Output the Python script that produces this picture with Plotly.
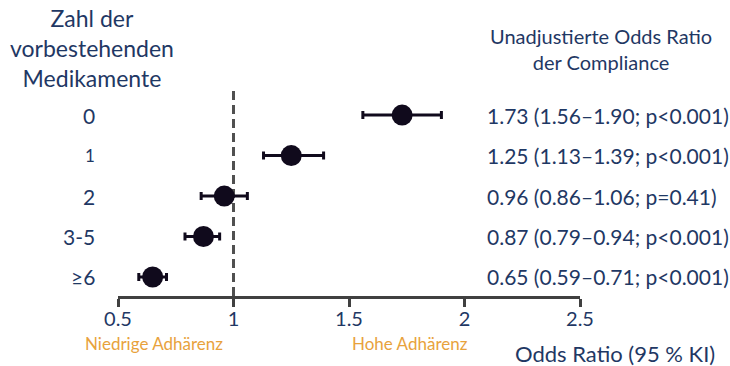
import plotly.graph_objects as go

# Forest plot data: odds ratio of compliance by number of pre-existing medications
categories = ["0", "1", "2", "3-5", "≥6"]
odds_ratio = [1.73, 1.25, 0.96, 0.87, 0.65]
ci_low = [1.56, 1.13, 0.86, 0.79, 0.59]
ci_high = [1.90, 1.39, 1.06, 0.94, 0.71]
p_text = ["p<0.001", "p<0.001", "p=0.41", "p<0.001", "p<0.001"]
x_ticks = [0.5, 1, 1.5, 2, 2.5]
x_tick_labels = ["0.5", "1", "1.5", "2", "2.5"]

NAVY = "#1F3864"
ORANGE = "#E8A23C"
MARK = "#100A1C"
AXIS = "#404040"
FONT = "Lato"

W, H = 730, 366
ML, MR, MT, MB = 118, 150, 88, 70
PW = W - ML - MR
PH = H - MT - MB

# rows from top (0) to bottom (≥6)
ypos = list(range(len(categories) - 1, -1, -1))

fig = go.Figure()

fig.add_trace(go.Scatter(
    x=odds_ratio,
    y=ypos,
    mode="markers",
    marker=dict(size=21, color=MARK),
    error_x=dict(
        type="data",
        symmetric=False,
        array=[h - o for h, o in zip(ci_high, odds_ratio)],
        arrayminus=[o - l for o, l in zip(odds_ratio, ci_low)],
        color=MARK,
        thickness=3,
        width=4,
    ),
    hoverinfo="skip",
    showlegend=False,
))

# reference line at OR = 1
fig.add_shape(type="line", xref="x", yref="paper", x0=1, x1=1, y0=0, y1=1,
              line=dict(color="#505050", width=3, dash="9px,5px"), layer="below")

annotations = []

# category labels
for cat, y in zip(categories, ypos):
    annotations.append(dict(
        text=cat, xref="paper", yref="y", x=(97 - ML) / PW, y=y,
        xanchor="right", yanchor="middle", showarrow=False,
        font=dict(family=FONT, size=17 if cat == "1" else 21, color=NAVY),
    ))

# value labels
for o, l, h, p, y in zip(odds_ratio, ci_low, ci_high, p_text, ypos):
    annotations.append(dict(
        text=f"{o:.2f} ({l:.2f}–{h:.2f}; {p})", xref="paper", yref="y",
        x=(485 - ML) / PW, y=y, xanchor="left", yanchor="middle", showarrow=False,
        font=dict(family=FONT, size=21, color=NAVY),
    ))

# headers
annotations.append(dict(
    text="Zahl der<br>vorbestehenden<br>Medikamente", xref="paper", yref="paper",
    x=(92 - ML) / PW, y=(MT + PH - 48) / PH, xanchor="center", yanchor="middle",
    showarrow=False, align="center",
    font=dict(family=FONT, size=23, color=NAVY),
))
annotations.append(dict(
    text="Unadjustierte Odds Ratio<br>der Compliance", xref="paper", yref="paper",
    x=(601 - ML) / PW, y=(MT + PH - 49) / PH, xanchor="center", yanchor="middle",
    showarrow=False, align="center",
    font=dict(family=FONT, size=20, color=NAVY),
))

# bottom captions
annotations.append(dict(
    text="Niedrige Adhärenz", xref="paper", yref="paper",
    x=(154 - ML) / PW, y=(MT + PH - 343) / PH, xanchor="center", yanchor="middle",
    showarrow=False, font=dict(family=FONT, size=17, color=ORANGE),
))
annotations.append(dict(
    text="Hohe Adhärenz", xref="paper", yref="paper",
    x=(410 - ML) / PW, y=(MT + PH - 343) / PH, xanchor="center", yanchor="middle",
    showarrow=False, font=dict(family=FONT, size=17, color=ORANGE),
))
annotations.append(dict(
    text="Odds Ratio (95 % KI)", xref="paper", yref="paper",
    x=(615 - ML) / PW, y=(MT + PH - 353) / PH, xanchor="center", yanchor="middle",
    showarrow=False, font=dict(family=FONT, size=22, color=NAVY),
))

fig.update_layout(
    width=W, height=H,
    margin=dict(l=ML, r=MR, t=MT, b=MB),
    paper_bgcolor="white", plot_bgcolor="white",
    annotations=annotations,
    xaxis=dict(
        range=[0.5, 2.5], tickvals=x_ticks, ticktext=x_tick_labels,
        showgrid=False, zeroline=False,
        showline=True, linecolor=AXIS, linewidth=3,
        ticks="outside", ticklen=8, tickwidth=3, tickcolor=AXIS,
        tickfont=dict(family=FONT, size=20, color=NAVY),
        ticklabelstandoff=-5,
        fixedrange=True,
    ),
    yaxis=dict(
        range=[-0.47, 4.67], visible=False, showgrid=False, zeroline=False,
        fixedrange=True,
    ),
)

fig.write_html("out.html")
